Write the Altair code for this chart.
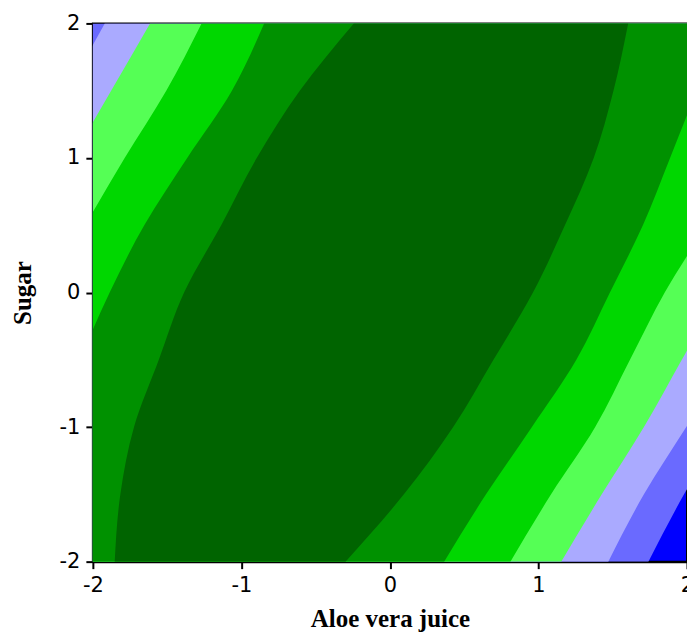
import altair as alt
import pandas as pd

# Sugar levels (y) at which contour boundaries were read
sugar = [2.0, 1.5, 1.0, 0.5, 0.0, -0.5, -1.0, -1.5, -2.0]

# Aloe vera juice position of each contour boundary (left / right side of the band region)
z_left = [-4.0, -4.0, -4.0, -4.0, -4.0, -4.0, -4.0, -4.0, -4.0]
z_right = [3.75, 3.5, 3.25, 3.0, 2.75, 2.5, 2.25, 1.98, 1.74]
a_left = [-1.92, -2.17, -2.42, -2.67, -2.92, -3.17, -3.42, -3.67, -3.92]
a_right = [3.68, 3.4, 3.12, 2.84, 2.56, 2.28, 1.995, 1.71, 1.47]
b_left = [-1.615, -1.877, -2.139, -2.40, -2.66, -2.92, -3.18, -3.44, -3.70]
b_right = [3.25, 3.0, 2.75, 2.5, 2.22, 1.965, 1.71, 1.426, 1.153]
c_left = [-1.268, -1.506, -1.786, -2.052, -2.32, -2.58, -2.84, -3.10, -3.36]
c_right = [2.9, 2.65, 2.4, 2.13, 1.85, 1.616, 1.382, 1.085, 0.811]
d_left = [-0.847, -1.064, -1.365, -1.654, -1.887, -2.09, -2.3, -2.5, -2.7]
d_right = [2.25, 2.066, 1.886, 1.703, 1.481, 1.255, 0.956, 0.647, 0.365]
e_left = [-0.243, -0.607, -0.897, -1.136, -1.386, -1.556, -1.723, -1.815, -1.853]
e_right = [1.604, 1.505, 1.372, 1.178, 0.963, 0.697, 0.426, 0.094, -0.299]

levels = ["Z", "A", "B", "C", "D", "E"]
lefts = [z_left, a_left, b_left, c_left, d_left, e_left]
rights = [z_right, a_right, b_right, c_right, d_right, e_right]
palette = ["#6a6aff", "#aaaaff", "#55ff55", "#00d700", "#009100", "#006400"]
background = "#0000ff"

ticks = [-2, -1, 0, 1, 2]

x_scale = alt.Scale(domain=[-2, 2], nice=False, zero=False)
y_scale = alt.Scale(domain=[-2, 2], nice=False, zero=False)

axis_common = dict(
    values=ticks,
    labelExpr="'' + datum.value",
    grid=False,
    domainColor="black",
    domainWidth=2,
    tickColor="black",
    tickWidth=2,
    tickSize=7,
    labelFont="DejaVu Sans",
    labelFontSize=21,
    labelColor="black",
    labelFlush=False,
    labelOverlap=False,
    labelBound=False,
    titleFont="Liberation Serif",
    titleFontWeight="bold",
    titleFontSize=25,
    titleColor="black",
)

x_axis = alt.Axis(title="Aloe vera juice", labelPadding=6,
                  titleBaseline="alphabetic", titleY=65, **axis_common)
y_axis = alt.Axis(title="Sugar", labelPadding=6, titleAngle=-90,
                  titleBaseline="middle", titleX=-70, titleY=269.5,
                  titleAlign="center", **axis_common)

rows = []
for i, (lvl, lft, rgt) in enumerate(zip(levels, lefts, rights)):
    for s, l, r in zip(sugar, lft, rgt):
        rows.append({"level": lvl, "rank": i, "sugar": s, "left": l, "right": r})
data = pd.DataFrame(rows)

layers = []
for lvl, col in zip(levels, palette):
    layer = alt.Chart(data).transform_filter(
        alt.datum.level == lvl
    ).mark_area(
        orient="horizontal", clip=True, fill=col, fillOpacity=1,
        interpolate="monotone"
    ).encode(
        y=alt.Y("sugar:Q", scale=y_scale, axis=y_axis),
        x=alt.X("left:Q", scale=x_scale, axis=x_axis),
        x2=alt.X2("right:Q"),
    )
    layers.append(layer)

chart = alt.layer(*layers).properties(
    width=595,
    height=539,
    autosize=alt.AutoSizeParams(type="none"),
    padding={"left": 93, "top": 23, "right": 0, "bottom": 72},
    background="white",
).configure_view(
    fill=background,
    stroke="black",
    strokeWidth=2,
)

chart.save("out.html", embed_options={"renderer": "svg", "actions": False})
